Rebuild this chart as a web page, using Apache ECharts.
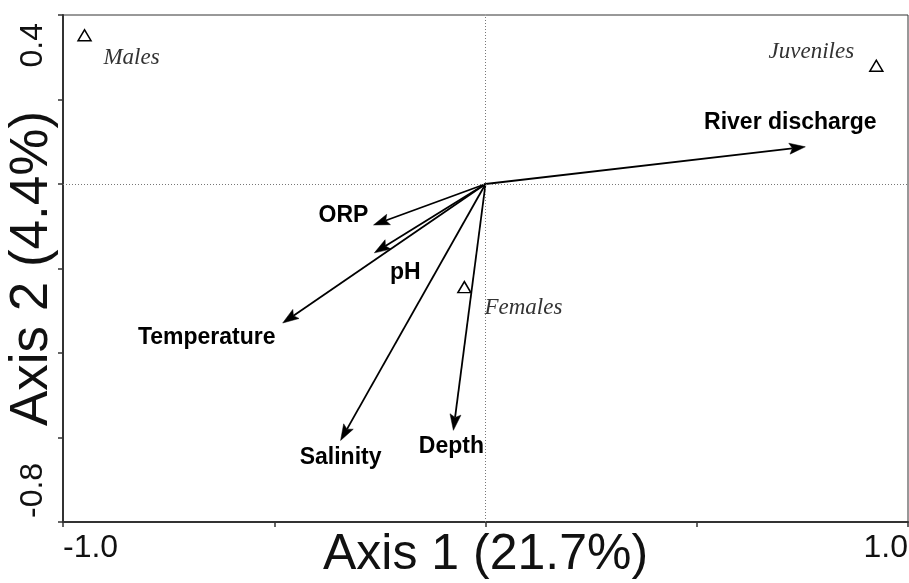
<!DOCTYPE html>
<html><head><meta charset="utf-8">
<script src="https://cdn.jsdelivr.net/npm/echarts@6/dist/echarts.min.js"></script>
<style>html,body{margin:0;padding:0;background:#fff}#c{width:909px;height:583px}</style>
</head><body><div id="c"></div>
<script>
// ---- data ----
const variableNames = ['River discharge', 'ORP', 'pH', 'Temperature', 'Salinity', 'Depth'];
const variableAxis1 = [0.757, -0.265, -0.263, -0.480, -0.343, -0.076];
const variableAxis2 = [0.088, -0.097, -0.163, -0.329, -0.607, -0.583];
const groupNames = ['Males', 'Juveniles', 'Females'];
const groupAxis1 = [-0.949, 0.925, -0.050];
const groupAxis2 = [0.352, 0.280, -0.244];
const xLabeledTicks = [-1.0, 1.0];
const xTickLabels = ['-1.0', '1.0'];
const yLabeledTicks = [-0.8, 0.4];
const yTickLabels = ['-0.8', '0.4'];
const xAxisTitle = 'Axis 1 (21.7%)';
const yAxisTitle = 'Axis 2 (4.4%)';

// ---- styles (label offsets in px) ----
const variableLabelOffsets = [[-15, -24], [-30, -9], [31, 20], [-76, 15], [0, 17], [-2, 16]];
const groupLabelOffsets = [[47, 23], [-65, -14], [59, 21]];

function pick(ticks, labels, v) {
  for (let i = 0; i < ticks.length; i++) if (Math.abs(ticks[i] - v) < 1e-6) return labels[i];
  return '';
}
const SANS = 'Liberation Sans, Arial, sans-serif';
const SERIF = 'Liberation Serif, Times New Roman, serif';

const chart = echarts.init(document.getElementById('c'), null, {renderer: 'canvas'});
chart.setOption({
  backgroundColor: '#fff',
  animation: false,
  grid: {left: 63, right: 1, top: 15, bottom: 61, containLabel: false, outerBoundsMode: 'none',
         show: true, borderColor: '#333', borderWidth: 1, backgroundColor: 'transparent'},
  xAxis: {
    type: 'value', min: -1, max: 1, interval: 0.5,
    axisLine: {show: true, onZero: false, lineStyle: {color: '#333', width: 2}},
    axisTick: {show: true, length: 5, lineStyle: {color: '#333', width: 1.5}},
    splitLine: {show: false},
    axisLabel: {
      show: true, fontSize: 32, color: '#111', fontFamily: SANS, margin: 10,
      showMinLabel: true, showMaxLabel: true, hideOverlap: false,
      alignMinLabel: 'left', alignMaxLabel: 'right',
      formatter: v => pick(xLabeledTicks, xTickLabels, v)
    },
    name: xAxisTitle, nameLocation: 'middle', nameGap: 8, nameMoveOverlap: false,
    nameTextStyle: {fontSize: 50, color: '#111', fontFamily: SANS}
  },
  yAxis: {
    type: 'value', min: -0.8, max: 0.4, interval: 0.2,
    axisLine: {show: true, onZero: false, lineStyle: {color: '#333', width: 2}},
    axisTick: {show: true, length: 5, lineStyle: {color: '#333', width: 1.5}},
    splitLine: {show: false},
    axisLabel: {
      show: true, fontSize: 32, color: '#111', fontFamily: SANS, margin: 14, rotate: 90,
      showMinLabel: true, showMaxLabel: true, hideOverlap: false,
      alignMinLabel: 'left', alignMaxLabel: 'right',
      formatter: function (v) {
        const s = pick(yLabeledTicks, yTickLabels, v);
        if (!s) return '';
        return v > 0 ? '{top|' + s + '}' : '{bot|' + s + '}';
      },
      rich: {
        top: {fontSize: 32, color: '#111', fontFamily: SANS, padding: [0, 8, 0, 0]},
        bot: {fontSize: 32, color: '#111', fontFamily: SANS, padding: [0, 0, 0, 4]}
      }
    },
    name: yAxisTitle, nameLocation: 'middle', nameGap: 4, nameMoveOverlap: false,
    nameTextStyle: {fontSize: 53, color: '#111', fontFamily: SANS}
  },
  series: [
    {
      type: 'scatter', name: 'zero', data: [], silent: true,
      markLine: {
        silent: true, symbol: 'none', animation: false,
        label: {show: false},
        lineStyle: {type: [1, 2], color: '#777', width: 1},
        data: [{xAxis: 0}, {yAxis: 0}]
      }
    },
    {
      type: 'custom', name: 'vectors', coordinateSystem: 'cartesian2d', silent: true,
      data: variableAxis1.map((x, i) => [x, variableAxis2[i]]),
      renderItem: function (params, api) {
        const o = api.coord([0, 0]);
        const t = api.coord([api.value(0), api.value(1)]);
        const dx = t[0] - o[0], dy = t[1] - o[1];
        const len = Math.hypot(dx, dy);
        const ux = dx / len, uy = dy / len;
        const L = 16, W = 5.5, N = 3;
        const bx = t[0] - ux * L, by = t[1] - uy * L;
        return {
          type: 'group',
          children: [
            {type: 'line', shape: {x1: o[0], y1: o[1], x2: bx + ux * N, y2: by + uy * N},
             style: {stroke: '#000', lineWidth: 1.8}},
            {type: 'polygon', shape: {points: [
              [t[0], t[1]],
              [bx - uy * W, by + ux * W],
              [bx + ux * N, by + uy * N],
              [bx + uy * W, by - ux * W]
            ]}, style: {fill: '#000', stroke: '#000', lineWidth: 0.5}}
          ]
        };
      }
    },
    {
      type: 'scatter', name: 'vectorLabels', silent: true, symbolSize: 0,
      itemStyle: {opacity: 1},
      data: variableAxis1.map((x, i) => ({
        value: [x, variableAxis2[i]], name: variableNames[i],
        label: {offset: variableLabelOffsets[i]}
      })),
      label: {show: true, position: 'inside', formatter: '{b}', fontSize: 23, fontWeight: 'bold',
              color: '#000', fontFamily: SANS}
    },
    {
      type: 'scatter', name: 'groups', silent: true, symbol: 'triangle', symbolSize: [13, 11],
      itemStyle: {color: '#fff', borderColor: '#000', borderWidth: 1.5, opacity: 1},
      data: groupAxis1.map((x, i) => ({
        value: [x, groupAxis2[i]], name: groupNames[i],
        label: {offset: groupLabelOffsets[i]}
      })),
      label: {show: true, position: 'inside', formatter: '{b}', fontSize: 23, fontStyle: 'italic',
              color: '#333', fontFamily: SERIF}
    }
  ]
});
</script>
</body></html>
